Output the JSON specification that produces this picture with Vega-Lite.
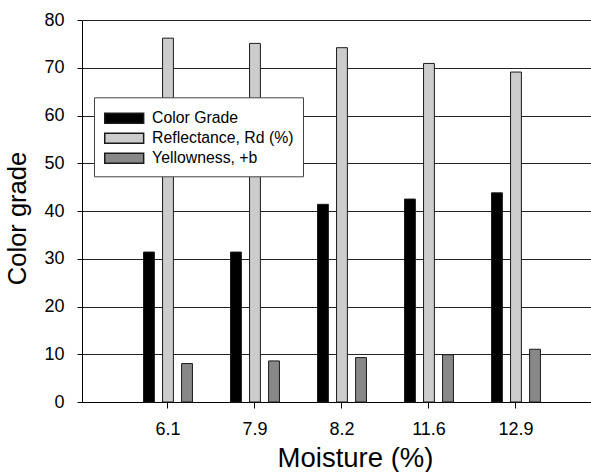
{
  "$schema": "https://vega.github.io/schema/vega-lite/v6.json",
  "autosize": "none",
  "width": 509,
  "height": 382,
  "padding": {"left": 82, "top": 20, "right": 0, "bottom": 70},
  "background": "white",
  "config": {
    "view": {"stroke": null},
    "font": "Liberation Sans",
    "axis": {"labelColor": "black", "titleColor": "black", "domainColor": "black", "tickColor": "black", "titleFontWeight": "normal"}
  },
  "data": {
    "values": [
      {"moisture": "6.1", "series": "Color Grade", "value": 31.4},
      {"moisture": "6.1", "series": "Reflectance, Rd (%)", "value": 76.2},
      {"moisture": "6.1", "series": "Yellowness, +b", "value": 8.05},
      {"moisture": "7.9", "series": "Color Grade", "value": 31.4},
      {"moisture": "7.9", "series": "Reflectance, Rd (%)", "value": 75.1},
      {"moisture": "7.9", "series": "Yellowness, +b", "value": 8.6},
      {"moisture": "8.2", "series": "Color Grade", "value": 41.4},
      {"moisture": "8.2", "series": "Reflectance, Rd (%)", "value": 74.2},
      {"moisture": "8.2", "series": "Yellowness, +b", "value": 9.3},
      {"moisture": "11.6", "series": "Color Grade", "value": 42.5},
      {"moisture": "11.6", "series": "Reflectance, Rd (%)", "value": 70.9},
      {"moisture": "11.6", "series": "Yellowness, +b", "value": 9.9},
      {"moisture": "12.9", "series": "Color Grade", "value": 43.8},
      {"moisture": "12.9", "series": "Reflectance, Rd (%)", "value": 69.1},
      {"moisture": "12.9", "series": "Yellowness, +b", "value": 11.05}
    ]
  },
  "mark": {"type": "bar", "stroke": "#1a1a1a", "strokeWidth": 1},
  "encoding": {
    "x": {
      "field": "moisture",
      "type": "nominal",
      "sort": null,
      "scale": {"paddingInner": 0, "paddingOuter": 0.4253, "align": 0.574},
      "axis": {
        "title": "Moisture (%)",
        "titleFontSize": 27.5,
        "titlePadding": 6,
        "titleX": 273,
        "labelFontSize": 18,
        "labelAngle": 0,
        "labelPadding": 12,
        "tickSize": 6,
        "grid": false
      }
    },
    "xOffset": {
      "field": "series",
      "type": "nominal",
      "scale": {"paddingInner": 0.43, "paddingOuter": 1.079}
    },
    "y": {
      "field": "value",
      "type": "quantitative",
      "scale": {"domain": [0, 80], "nice": false},
      "axis": {
        "title": "Color grade",
        "titleFontSize": 25.5,
        "titlePadding": 13,
        "titleY": 198,
        "labelFontSize": 18,
        "labelPadding": 13,
        "tickSize": 5,
        "values": [0, 10, 20, 30, 40, 50, 60, 70, 80],
        "grid": true,
        "gridColor": "#222222",
        "gridWidth": 1
      }
    },
    "color": {
      "field": "series",
      "type": "nominal",
      "scale": {
        "domain": ["Color Grade", "Reflectance, Rd (%)", "Yellowness, +b"],
        "range": ["#000000", "#cccccc", "#888888"]
      },
      "legend": {
        "title": null,
        "orient": "none",
        "legendX": 12,
        "legendY": 77.3,
        "direction": "vertical",
        "fillColor": "white",
        "strokeColor": "#444444",
        "padding": 9.5,
        "labelFontSize": 15.8,
        "labelColor": "black",
        "labelOffset": 16.4,
        "symbolOffset": 9.2,
        "rowPadding": 0,
        "symbolType": "M-1.89,-0.485H1.89V0.485H-1.89Z",
        "symbolSize": 424,
        "symbolStrokeColor": "#1a1a1a",
        "symbolStrokeWidth": 1.5,
        "symbolOpacity": 1
      }
    }
  }
}
